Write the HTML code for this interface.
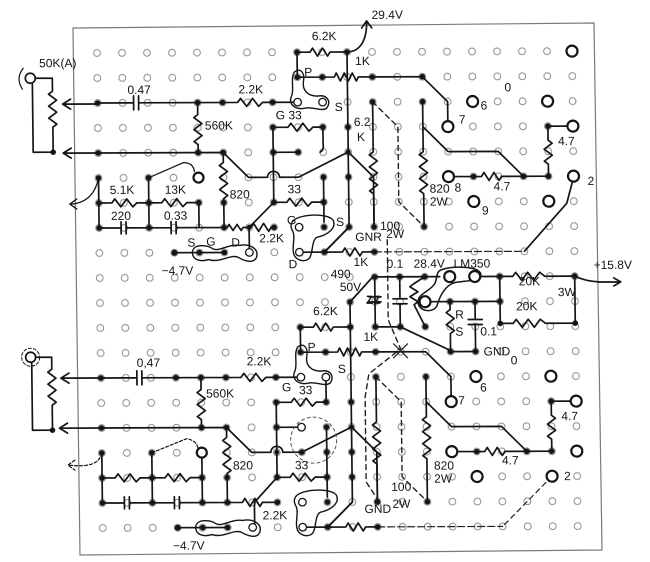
<!DOCTYPE html>
<html><head><meta charset="utf-8"><style>
html,body{margin:0;padding:0;background:#fff;}
svg{display:block;}
text{font-family:"Liberation Sans",sans-serif;font-size:12px;fill:#151515;stroke:none;}
</style></head><body>
<svg width="650" height="562" viewBox="0 0 650 562" xmlns="http://www.w3.org/2000/svg">
<defs>
<pattern id="holes" patternUnits="userSpaceOnUse" width="25" height="25" patternTransform="matrix(1,-0.004,0.012,1,84.35,40.55)">
<circle cx="12.5" cy="12.5" r="3.4" fill="none" stroke="#8c8c8c" stroke-width="1"/>
</pattern>
</defs>
<rect width="650" height="562" fill="#fff"/>
<polygon points="73,28 594,23 602,550 80,555" fill="none" stroke="#7a7a7a" stroke-width="1.2"/>
<rect x="86" y="41" width="502" height="500" fill="url(#holes)"/>

<g transform="matrix(1,-0.004,0.012,1,97,53)">
<!-- ================= wires ================= -->
<g stroke="#151515" stroke-width="1.7" fill="none" stroke-linecap="round" stroke-linejoin="round">
<!-- TOP jack & pot -->
<circle cx="-67" cy="25" r="5"/>
<path d="M-74,15 Q-82,25 -75,36" stroke-width="1.2"/>
<path d="M-62,25 H-45 V38 l-4,3 l8,6 l-8,6 l8,6 l-8,6 l8,6 l-4,3 V99 H-65 V31"/>
<path d="M0,51 H-35 M-27,46 L-35,51 L-27,56"/>
<path d="M0,100 H-35 M-27,95 L-35,100 L-27,105"/>
<!-- row r2 input -->
<path d="M0,50 H36 M36,43 V57 M41,43 V57 M41,50 H140 l3,-4 l6,8 l6,-8 l6,8 l4,-4 H196"/>
<path d="M100,50 V62 l-4,3 l8,6 l-8,6 l8,6 l-8,6 l4,3 V100"/>
<path d="M0,100 H125 L150,125 H169 A6,6 0 0 1 181,125 H200 L250,100"/>
<path d="M125,100 V110 l-4,3 l8,6 l-8,6 l8,6 l-8,6 l8,6 l-4,3 V175"/>
<path d="M0,125 C-3,140 -12,150 -28,151 M-22,146 L-29,151 L-22,156" stroke-width="1.3"/>
<path d="M50,125 L85,110 Q95,110 96,119" stroke-width="1.3"/>
<path d="M0,125 V175 M50,125 V175 M100,150 V175"/>
<path d="M0,150 H13 l3,-4 l6,8 l6,-8 l6,8 l4,-4 H63 l3,-4 l6,8 l6,-8 l6,8 l4,-4 H100"/>
<path d="M0,175 H22 M22,169 V181 M27,169 V181 M27,175 H72 M72,169 V181 M77,169 V181 M77,175 H128 l2,-3 l4,6 l4,-6 l4,6 l2,-3 H152 l2.5,-4 l5,8 l5,-8 l5,8 l2.5,-4 H175"/>
<path d="M150,175 L175,150 M150,175 V196"/>
<!-- SGD blob top -->
<path d="M75,200 H125"/>
<path d="M93,200 C93,191 108,192 113,196 C119,200 130,191 140,193 C150,191 160,196 157,205 C154,212 144,208 139,205 C132,201 120,211 109,207 C99,210 93,206 93,200 Z" stroke-width="1.4"/>
<!-- G33 / 33 area top -->
<path d="M175,75 H190 l3,-4 l6,8 l6,-8 l6,8 l4,-4 H225 V92 Q226,98 222,100"/>
<path d="M175,75 V150 M175,100 H200"/>
<path d="M175,150 H188 l3,-4 l6,8 l6,-8 l6,8 l4,-4 H225 V170 M225,125 V150"/>
<!-- blob top mid (G/S/D) -->
<path d="M193,170 C197,162 228,160 234,168 C238,176 228,183 218,185 C212,188 214,200 210,206 C205,211 195,208 194,200 C193,192 196,186 194,180 C192,176 191,173 193,170 Z" stroke-width="1.4"/>
<path d="M204,200 H243 l2.5,-4 l5,8 l5,-8 l5,8 l2.5,-4 H275 M225,200 L250,175"/>
<path d="M425,200 L468,152 L474,130"/>
<!-- 6.2K top + 29.4V -->
<path d="M200,25 V0 H213 l2.5,-4 l5,8 l5,-8 l5,8 l2.5,-4 H250"/>
<path d="M250,0 C262,0 270,-10 270,-30 M265,-24 L270,-31 L275,-24"/>
<!-- row r1 pot -->
<path d="M200,25 H237 l2,-4 l4,8 l4,-8 l4,8 l4,-8 l4,8 l2,-4 H325 L350,50 V70"/>
<path d="M197,20 C203,15 208,20 206,30 C205,38 210,44 220,44 C230,42 234,50 229,56 C224,60 215,54 207,56 C198,58 190,52 194,44 C197,38 193,26 197,20 Z" stroke-width="1.4"/>
<!-- c10 rail -->
<path d="M250,0 V175 L225,200 M250,100 L275,125 V172"/>
<!-- 100 2W -->
<path d="M275,50 V100 l-4,3 l8,6 l-8,6 l8,6 l-8,6 l8,6 l-8,6 l4,3 V175"/>
<!-- 820 2W -->
<path d="M325,50 V100 l-4,3 l8,6 l-8,6 l8,6 l-8,6 l8,6 l-8,6 l4,3 V175"/>
<path d="M325,75 L350,100 H400 L425,125"/>
<path d="M356,125 H383 l2.5,-4 l5,8 l5,-8 l5,8 l2.5,-4 H450"/>
<path d="M450,125 V113 l-4,-3 l8,-6 l-8,-6 l8,-6 l-4,-3 V75 H470"/>

<!-- BOTTOM jack & pot -->
<circle cx="-70" cy="304" r="5"/>
<circle cx="-70" cy="304" r="9" stroke-width="1" stroke-dasharray="3,2"/>
<path d="M-65,304 H-49 V316 l-4,3 l8,6 l-8,6 l8,6 l-8,6 l8,6 l-4,3 V377 H-69 V309"/>
<path d="M0,325 H-40 M-32,320 L-40,325 L-32,330"/>
<path d="M0,375 H-42 M-34,370 L-42,375 L-34,380"/>
<path d="M0,325 H36 M36,318 V332 M41,318 V332 M41,325 H140 l3,-4 l6,8 l6,-8 l6,8 l4,-4 H196"/>
<path d="M100,325 V337 l-4,3 l8,6 l-8,6 l8,6 l-8,6 l4,3 V375"/>
<path d="M0,375 H125 L150,400 H169 A6,6 0 0 1 181,400 H200 L250,375"/>
<path d="M125,375 V385 l-4,3 l8,6 l-8,6 l8,6 l-8,6 l8,6 l-4,3 V450"/>
<path d="M0,400 C-3,412 -15,414 -33,412 M-27,407 L-34,412 L-27,417" stroke-width="1.2" stroke-dasharray="3,2"/>
<path d="M50,400 L85,386 Q95,388 96,395" stroke-width="1.2" stroke-dasharray="3,2"/>
<path d="M0,400 V450 M50,400 V450 M100,405 V450"/>
<path d="M0,425 H13 l3,-4 l6,8 l6,-8 l6,8 l4,-4 H63 l3,-4 l6,8 l6,-8 l6,8 l4,-4 H100"/>
<path d="M0,450 H22 M22,444 V456 M27,444 V456 M27,450 H72 M72,444 V456 M77,444 V456 M77,450 H140 l2.5,-4 l5,8 l5,-8 l5,8 l2.5,-4 H175"/>
<path d="M152,450 L175,425 M152,450 V471"/>
<path d="M75,475 H125"/>
<path d="M93,475 C93,466 108,467 113,471 C119,475 130,466 140,468 C150,466 160,471 157,480 C154,487 144,483 139,480 C132,476 120,486 109,482 C99,485 93,481 93,475 Z" stroke-width="1.4"/>
<path d="M175,350 H190 l3,-4 l6,8 l6,-8 l6,8 l4,-4 H225 V325"/>
<path d="M175,350 V425 M175,375 H200"/>
<path d="M175,425 H188 l3,-4 l6,8 l6,-8 l6,8 l4,-4 H225 V445 M225,375 V425"/>
<circle cx="212" cy="388" r="23" stroke-width="1" stroke-dasharray="3,3" stroke="#555"/>
<path d="M193,445 C197,437 228,435 234,443 C238,451 228,458 218,460 C212,463 214,475 210,481 C205,486 195,483 194,475 C193,467 196,461 194,455 C192,451 191,448 193,445 Z" stroke-width="1.4"/>
<path d="M204,475 H243 l2.5,-4 l5,8 l5,-8 l5,8 l2.5,-4 H275 M225,475 L250,450"/>
<path d="M200,300 V275 H213 l2.5,-4 l5,8 l5,-8 l5,8 l2.5,-4 H250"/>
<path d="M200,300 H237 l2,-4 l4,8 l4,-8 l4,8 l4,-8 l4,8 l2,-4 H325 L350,325 V345"/>
<path d="M197,295 C203,290 208,295 206,305 C205,313 210,319 220,319 C230,317 234,325 229,331 C224,335 215,329 207,331 C198,333 190,327 194,319 C197,313 193,301 197,295 Z" stroke-width="1.4"/>
<path d="M273,225 L250,250 V450 L225,475 M250,375 L275,400 V447"/>
<path d="M275,325 V370 l-4,3 l8,6 l-8,6 l8,6 l-8,6 l8,6 l-8,6 l4,3 V450"/>
<path d="M325,325 V365 l-4,3 l8,6 l-8,6 l8,6 l-8,6 l8,6 l-8,6 l4,3 V450"/>
<path d="M325,350 L350,375 H400 L425,400"/>
<path d="M356,400 H383 l2.5,-4 l5,8 l5,-8 l5,8 l2.5,-4 H450"/>
<path d="M450,400 V388 l-4,-3 l8,-6 l-8,-6 l8,-6 l-4,-3 V350 H470"/>
<!-- LM350 area -->
<path d="M275,225 H340"/>
<path d="M342,218 C355,214 378,215 381,222 C383,230 365,229 355,231 C345,234 340,244 337,254 C333,262 318,260 318,250 C318,242 330,240 335,232 C338,226 336,220 342,218 Z" stroke-width="1.5"/>
<path d="M380,225 H413 l3,-4 l6,8 l6,-8 l6,8 l6,-8 l5,4 H475"/>
<path d="M300,225 V247 M293,247 H307 M293,252 H307 M300,252 V275"/>
<path d="M325,225 L314,232 l-4,3 l8,5 l-8,5 l8,5 l-4,3 L325,275"/>
<path d="M330,250 H400"/>
<path d="M350,250 V258 l-4,3 l8,6 l-8,6 l8,6 l-4,3 V300 H375"/>
<path d="M375,250 V268 M368,268 H382 M368,273 H382 M375,273 V300"/>
<path d="M400,225 V272 H413 l3,-4 l6,8 l6,-8 l6,8 l6,-8 l5,4 H475 V225"/>
<path d="M475,225 Q485,230 500,231 H520 M514,227 L521,231 L514,235"/>
<path d="M275,225 V275 M269,245 H281 M269,250 H281"/>
<path d="M275,275 H300 L348,298"/>
</g>
<!-- thin / dashed wires -->
<g stroke="#222" stroke-width="1.2" fill="none" stroke-linecap="round">
<path d="M275,200 H425" stroke-dasharray="7,3"/>
<path d="M275,475 H400" stroke-dasharray="7,3"/>
<path d="M275,50 L300,75 V150 L325,175" stroke-dasharray="5,4" stroke-width="1.4"/>
<path d="M275,325 L300,350 V425 L325,450" stroke-dasharray="5,4" stroke-width="1.4"/>
<path d="M288,188 V268 L300,297 L268,322 L264,345 V430 L275,447" stroke-dasharray="5,4" stroke-width="1.4"/>
<path d="M450,425 L425,450 L400,475" stroke-dasharray="5,4"/>
<path d="M293,292 L307,306 M307,292 L293,306"/>
</g>
<!-- big circles -->
<g stroke="#151515" stroke-width="2.2" fill="#fff">
<circle cx="475" cy="0" r="5.5"/><circle cx="375" cy="50" r="5.5"/><circle cx="450" cy="50" r="5.5"/>
<circle cx="350" cy="75" r="5.5"/><circle cx="350" cy="125" r="5.5"/><circle cx="375" cy="150" r="5.5"/>
<circle cx="450" cy="150" r="5.5"/><circle cx="475" cy="125" r="5.5"/><circle cx="475" cy="75" r="5.5"/>
<circle cx="100" cy="125" r="5"/>
<circle cx="375" cy="325" r="5.5"/><circle cx="450" cy="325" r="5.5"/><circle cx="350" cy="350" r="5.5"/>
<circle cx="350" cy="400" r="5.5"/><circle cx="375" cy="425" r="5.5"/><circle cx="450" cy="425" r="5.5"/>
<circle cx="475" cy="400" r="5.5"/><circle cx="475" cy="350" r="5.5"/><circle cx="100" cy="400" r="5"/>
<circle cx="350" cy="225" r="5.5"/><circle cx="375" cy="225" r="5.5"/><circle cx="325" cy="250" r="5.5"/>
</g>
<!-- open circles in blobs -->
<g stroke="#151515" stroke-width="1.3" fill="#fff">
<circle cx="150" cy="200" r="3.8"/><circle cx="200" cy="175" r="3.8"/><circle cx="200" cy="200" r="3.8"/>
<circle cx="200" cy="50" r="3.8"/><circle cx="225" cy="50" r="3.8"/><circle cx="225" cy="325" r="3.8"/>
<circle cx="200" cy="325" r="3.8"/><circle cx="150" cy="475" r="3.8"/><circle cx="200" cy="450" r="3.8"/>
<circle cx="200" cy="475" r="3.8"/><circle cx="200" cy="375" r="3.8"/>
</g>
<!-- junction dots -->
<g fill="#151515">
<circle cx="-45" cy="99" r="2.8"/><circle cx="-49" cy="377" r="2.8"/>
<circle cx="0" cy="50" r="2.8"/><circle cx="100" cy="50" r="2.8"/><circle cx="125" cy="50" r="2.8"/><circle cx="175" cy="50" r="2.8"/>
<circle cx="0" cy="100" r="2.8"/><circle cx="100" cy="100" r="2.8"/><circle cx="125" cy="100" r="2.8"/>
<circle cx="0" cy="125" r="2.8"/><circle cx="50" cy="125" r="2.8"/>
<circle cx="0" cy="150" r="2.8"/><circle cx="50" cy="150" r="2.8"/><circle cx="100" cy="150" r="2.8"/><circle cx="125" cy="150" r="2.8"/>
<circle cx="0" cy="175" r="2.8"/><circle cx="50" cy="175" r="2.8"/><circle cx="125" cy="175" r="2.8"/><circle cx="150" cy="175" r="2.5"/><circle cx="175" cy="175" r="2.8"/>
<circle cx="75" cy="200" r="3"/><circle cx="100" cy="200" r="2.8"/><circle cx="125" cy="200" r="2.8"/>
<circle cx="175" cy="75" r="2.8"/><circle cx="225" cy="75" r="2.8"/><circle cx="175" cy="100" r="2.8"/><circle cx="200" cy="100" r="2.8"/>
<circle cx="225" cy="125" r="2.8"/><circle cx="175" cy="150" r="2.8"/><circle cx="225" cy="150" r="2.8"/>
<circle cx="225" cy="175" r="2.8"/><circle cx="225" cy="200" r="2.8"/><circle cx="275" cy="200" r="2.8"/>
<circle cx="200" cy="0" r="2.8"/><circle cx="250" cy="0" r="2.8"/><circle cx="200" cy="25" r="2.8"/><circle cx="225" cy="25" r="2.8"/>
<circle cx="275" cy="25" r="2.8"/><circle cx="325" cy="25" r="2.8"/>
<circle cx="250" cy="75" r="2.8"/><circle cx="250" cy="100" r="2.5"/><circle cx="250" cy="125" r="2.8"/><circle cx="250" cy="175" r="2.8"/>
<circle cx="275" cy="50" r="2.8"/><circle cx="275" cy="175" r="2.8"/><circle cx="325" cy="50" r="2.8"/><circle cx="325" cy="175" r="2.8"/>
<circle cx="375" cy="125" r="2.8"/><circle cx="425" cy="125" r="2.8"/><circle cx="450" cy="125" r="2.8"/><circle cx="450" cy="75" r="2.8"/>
<circle cx="0" cy="325" r="2.8"/><circle cx="75" cy="325" r="2.8"/><circle cx="100" cy="325" r="2.8"/><circle cx="125" cy="325" r="2.8"/><circle cx="175" cy="325" r="2.8"/>
<circle cx="0" cy="375" r="2.8"/><circle cx="100" cy="375" r="2.8"/><circle cx="125" cy="375" r="2.8"/>
<circle cx="0" cy="400" r="2.8"/><circle cx="50" cy="400" r="2.8"/>
<circle cx="0" cy="425" r="2.8"/><circle cx="50" cy="425" r="2.8"/><circle cx="100" cy="425" r="2.8"/><circle cx="125" cy="425" r="2.8"/>
<circle cx="0" cy="450" r="2.8"/><circle cx="50" cy="450" r="2.8"/><circle cx="100" cy="450" r="2.8"/><circle cx="125" cy="450" r="2.8"/><circle cx="175" cy="450" r="2.8"/>
<circle cx="75" cy="475" r="3"/><circle cx="100" cy="475" r="2.8"/><circle cx="125" cy="475" r="2.8"/>
<circle cx="175" cy="350" r="2.8"/><circle cx="225" cy="350" r="2.8"/><circle cx="175" cy="375" r="2.8"/><circle cx="225" cy="375" r="2.8"/>
<circle cx="200" cy="400" r="2.8"/><circle cx="225" cy="400" r="2.8"/><circle cx="175" cy="425" r="2.8"/><circle cx="225" cy="425" r="2.8"/>
<circle cx="225" cy="450" r="2.8"/><circle cx="225" cy="475" r="2.8"/><circle cx="275" cy="475" r="2.8"/><circle cx="175" cy="400" r="2.5"/>
<circle cx="200" cy="275" r="2.8"/><circle cx="250" cy="275" r="2.8"/><circle cx="200" cy="300" r="2.8"/><circle cx="225" cy="300" r="2.8"/>
<circle cx="275" cy="300" r="2.8"/><circle cx="250" cy="350" r="2.8"/><circle cx="250" cy="375" r="2.5"/><circle cx="250" cy="400" r="2.8"/><circle cx="250" cy="425" r="2.8"/>
<circle cx="275" cy="325" r="2.8"/><circle cx="275" cy="450" r="3"/><circle cx="325" cy="325" r="2.8"/><circle cx="325" cy="450" r="2.8"/>
<circle cx="375" cy="400" r="2.8"/><circle cx="425" cy="400" r="2.8"/><circle cx="450" cy="400" r="2.8"/><circle cx="450" cy="350" r="2.8"/>
<circle cx="275" cy="225" r="2.8"/><circle cx="300" cy="225" r="2.8"/><circle cx="325" cy="225" r="2.8"/><circle cx="400" cy="225" r="2.8"/><circle cx="475" cy="225" r="2.8"/>
<circle cx="350" cy="250" r="2.8"/><circle cx="375" cy="250" r="2.8"/><circle cx="400" cy="250" r="2.8"/>
<circle cx="250" cy="250" r="2.8"/><circle cx="275" cy="275" r="2.8"/><circle cx="300" cy="275" r="2.8"/><circle cx="325" cy="275" r="2.8"/>
<circle cx="400" cy="272" r="2.8"/><circle cx="475" cy="272" r="2.8"/><circle cx="350" cy="300" r="2.8"/><circle cx="375" cy="300" r="2.8"/>
</g>

<!-- ================= labels ================= -->
<text x="-58" y="14">50K(A)</text>
<text x="30" y="41" font-size="11">0.47</text>
<text x="141" y="41">2.2K</text>
<text x="107" y="77">560K</text>
<text x="131" y="146">820</text>
<text x="11" y="141">5.1K</text>
<text x="66" y="141">13K</text>
<text x="12" y="167">220</text>
<text x="65" y="167" font-size="11">0.33</text>
<text x="160" y="190">2.2K</text>
<text x="88" y="194">S</text><text x="107" y="193">G</text><text x="132" y="194">D</text>
<text x="62" y="222">−4.7V</text>
<text x="188" y="172" font-size="13">G</text>
<text x="237" y="174" font-size="13">S</text>
<text x="189" y="216" font-size="13">D</text>
<text x="254" y="214">1K</text>
<text x="215" y="-12">6.2K</text>
<text x="275" y="-33" font-size="13">29.4V</text>
<text x="207" y="24">P</text>
<text x="258" y="13">1K</text>
<text x="237" y="59" font-size="13">S</text>
<text x="178" y="67">G 33</text>
<text x="189" y="141">33</text>
<text x="256" y="74" font-size="9">6.2</text><text x="259" y="89" font-size="10">K</text>
<text x="281" y="178" font-size="10">100</text>
<text x="256" y="189">GNR</text><text x="287" y="186">2W</text>
<text x="331" y="141">820</text><text x="331" y="154" font-size="11">2W</text>
<text x="356" y="140" font-size="14">8</text>
<text x="361" y="72" font-size="13">7</text>
<text x="383" y="58" font-size="14">6</text>
<text x="407" y="40" font-size="13">0</text>
<text x="395" y="139" font-size="13">4.7</text>
<text x="460" y="94" font-size="14">4.7</text>
<text x="383" y="163" font-size="13">9</text>
<text x="489" y="134" font-size="13">2</text>
<text x="287" y="216" font-size="10">0.1</text>
<text x="314" y="216">28.4V</text>
<text x="354" y="216" font-size="13">LM350</text>
<text x="494" y="218" font-size="13">+15.8V</text>
<text x="231" y="226" font-size="10">490</text>
<text x="240" y="239" font-size="10">50V</text>
<text x="266" y="252" font-size="8" font-weight="bold">ZZ</text>
<text x="419" y="234">20K</text>
<text x="458" y="245">3W</text>
<text x="416" y="259">20K</text>
<text x="355" y="267">R</text><text x="355" y="284">S</text>
<text x="380" y="284" font-size="10">0.1</text>
<text x="383" y="304">GND</text>
<text x="410" y="313" font-size="13">0</text>
<text x="213" y="263">6.2K</text>
<text x="207" y="299">P</text>
<text x="263" y="289">1K</text>
<text x="237" y="321" font-size="13">S</text>
<text x="36" y="314" font-size="11">0,47</text>
<text x="146" y="313">2.2K</text>
<text x="105" y="345">560K</text>
<text x="181" y="339" font-size="13">G</text>
<text x="198" y="342" font-size="11">33</text>
<text x="131" y="417">820</text>
<text x="193" y="417" font-size="11">33</text>
<text x="160" y="467">2.2K</text>
<text x="70" y="497">−4.7V</text>
<text x="379" y="340" font-size="14">6</text>
<text x="357" y="353" font-size="13">7</text>
<text x="460" y="369" font-size="13">4.7</text>
<text x="400" y="413" font-size="13">4.7</text>
<text x="332" y="418">820</text><text x="332" y="431" font-size="11">2W</text>
<text x="289" y="439" font-size="10">100</text>
<text x="262" y="461">GND</text><text x="290" y="456">2W</text>
<text x="462" y="429" font-size="13">2</text>
</g>
</svg>
</body></html>
